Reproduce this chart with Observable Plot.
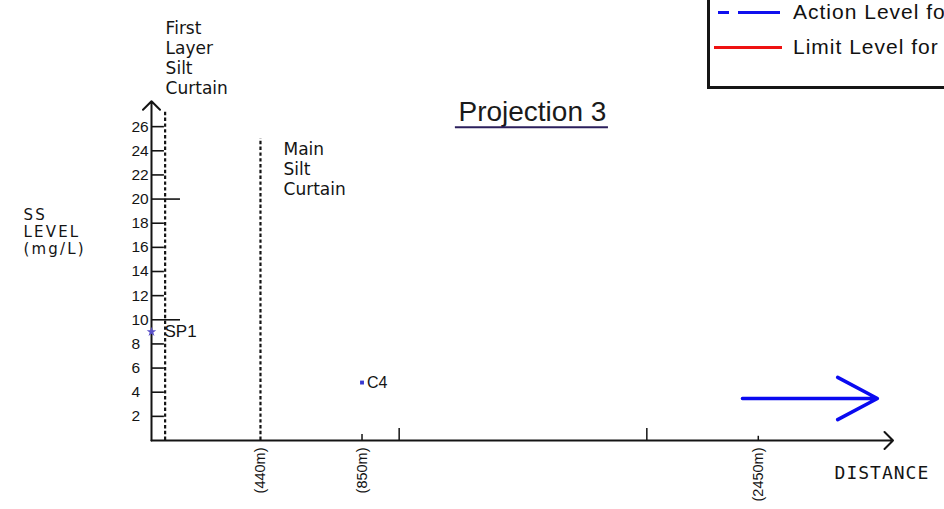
<!DOCTYPE html>
<html>
<head>
<meta charset="utf-8">
<script src="https://cdn.jsdelivr.net/npm/d3@7"></script>
<script src="https://cdn.jsdelivr.net/npm/@observablehq/plot@0.6"></script>
<style>
  body { margin: 0; background: #fff; }
  #wrap { position: relative; width: 944px; height: 509px; overflow: hidden; background: #fff; }
  #legend { position: absolute; left: 707px; top: -12px; width: 270px; height: 101px; box-sizing: border-box;
            border: 3px solid #151515; background: #fff; font-family: "Liberation Sans", Arial, sans-serif;
            font-size: 21px; color: #111; letter-spacing: 1px; }
  #legend .row { position: absolute; left: 83px; height: 24px; line-height: 24px; white-space: nowrap; }
  #legend .seg { position: absolute; height: 3px; }
</style>
</head>
<body>
<div id="wrap">
  <div id="chart"></div>
  <div id="legend"></div>
</div>
<script>
// ---- data ----
const yTicks = [2, 4, 6, 8, 10, 12, 14, 16, 18, 20, 22, 24, 26];
const longYTicks = [10, 20];

const stationNames = ["SP1", "C4"];
const stationDistance = [0, 850];      // m
const stationSS = [9.0, 4.8];          // mg/L

const curtainNames = ["First\nLayer\nSilt\nCurtain", "Main\nSilt\nCurtain"];
const curtainDistance = [55, 440];     // m
const curtainTop = [27.2, 25.0];       // extent of dotted line (mg/L units)
const curtainLabelX = [57, 533];
const curtainLabelY = [31.7, 22.5];

const xTickDistance = [850, 1000, 2000, 2450];
const xTickHeight = [0.5, 1.0, 1.0, 0.35];
const xLabelDistance = [440, 850, 2450];
const xLabelText = ["(440m)", "(850m)", "(2450m)"];

const axisXEnd = 2994;
const axisYEnd = 28.1;

const titleText = "Projection 3";
const titlePos = [1538, 27.2];
const underline = [1227, 1845, 25.95];

const ssTitle = "SS\nLEVEL\n(mg/L)";
const ssTitlePos = [-517, 17.3];
const distTitle = "DISTANCE";
const distTitlePos = [2758, -2.75];

const flowArrow = [2386, 2931, 3.48];  // x1, x2, y

const legendLabels = ["Action Level for", "Limit Level for"];
const legendColors = ["#1010ee", "#ee1111"];

// ---- build tables ----
const stations = stationNames.map((name, i) => ({name, distance: stationDistance[i], ss: stationSS[i]}));
const curtains = curtainNames.map((label, i) => ({label, distance: curtainDistance[i], top: curtainTop[i], lx: curtainLabelX[i], ly: curtainLabelY[i]}));
const xTicks = xTickDistance.map((d, i) => ({d, h: xTickHeight[i]}));
const xLabels = xLabelDistance.map((d, i) => ({d, text: xLabelText[i]}));

const ink = "#141414";

const chart = Plot.plot({
  width: 944,
  height: 509,
  marginLeft: 151,
  marginRight: 50,
  marginTop: 102,
  marginBottom: 69,
  x: {domain: [0, 3000], axis: null},
  y: {domain: [0, 28], axis: null},
  style: {fontFamily: "'DejaVu Sans', sans-serif", background: "transparent", overflow: "visible"},
  marks: [
    // silt curtains
    Plot.ruleX(curtains, {x: "distance", y1: 0, y2: "top", stroke: ink, strokeWidth: 2.2, strokeDasharray: "3.4,2.4"}),
    // axes
    Plot.arrow([0], {x1: 0, y1: 0, x2: 0, y2: axisYEnd, stroke: ink, strokeWidth: 2, headLength: 9, headAngle: 90}),
    Plot.arrow([0], {x1: 0, y1: 0, x2: axisXEnd, y2: 0, stroke: ink, strokeWidth: 2, headLength: 9, headAngle: 90}),
    // y ticks
    Plot.ruleY(yTicks, {y: d => d, x1: 0, x2: d => longYTicks.includes(d) ? 117 : 52, stroke: ink, strokeWidth: 1.6}),
    Plot.text(yTicks, {x: 0, y: d => d, text: d => String(d), textAnchor: "start", dx: -20,
      fontFamily: "'Liberation Sans Narrow', 'Liberation Sans', sans-serif", fontSize: 15.5, fill: ink}),
    // x ticks
    Plot.ruleX(xTicks, {x: "d", y1: 0, y2: "h", stroke: ink, strokeWidth: 1.5}),
    Plot.text(xLabels, {x: "d", y: 0, text: "text", rotate: -90, textAnchor: "end", dy: 7,
      fontFamily: "'Liberation Sans', sans-serif", fontSize: 14.5, fill: ink}),
    // stations
    Plot.dot(stations.filter((d, i) => i === 0), {x: "distance", y: "ss", symbol: "star", r: 3, fill: "#5a50c8", stroke: "none"}),
    Plot.dot(stations.filter((d, i) => i === 1), {x: "distance", y: "ss", symbol: "square", r: 2.2, fill: "#3838d0", stroke: "none"}),
    Plot.text(stations.filter((d, i) => i === 0), {x: "distance", y: "ss", text: "name", textAnchor: "start", dx: 13,
      fontFamily: "'Liberation Sans Narrow', 'Liberation Sans', sans-serif", fontSize: 17, fill: ink}),
    Plot.text(stations.filter((d, i) => i === 1), {x: "distance", y: "ss", text: "name", textAnchor: "start", dx: 5,
      fontFamily: "'Liberation Sans Narrow', 'Liberation Sans', sans-serif", fontSize: 16, fontWeight: 500, fill: ink}),
    // curtain labels
    Plot.text(curtains, {x: "lx", y: "ly", text: "label", textAnchor: "start", lineHeight: 1.17,
      fontFamily: "'DejaVu Sans', sans-serif", fontSize: 17, fill: ink}),
    // title
    Plot.text([titleText], {x: () => titlePos[0], y: () => titlePos[1], text: d => d,
      fontFamily: "'Liberation Sans', sans-serif", fontSize: 28, fill: "#1a1a1a"}),
    Plot.ruleY([underline], {y: d => d[2], x1: d => d[0], x2: d => d[1], stroke: "#2b1f5c", strokeWidth: 2}),
    // axis titles
    Plot.text([ssTitle], {x: () => ssTitlePos[0], y: () => ssTitlePos[1], text: d => d, textAnchor: "start", lineHeight: 1.12,
      fontFamily: "'DejaVu Sans', sans-serif", fontSize: 15, fill: ink}),
    Plot.text([distTitle], {x: () => distTitlePos[0], y: () => distTitlePos[1], text: d => d, textAnchor: "start",
      fontFamily: "'DejaVu Sans Mono', monospace", fontSize: 18, fill: ink}),
    // flow direction arrow
    Plot.arrow([flowArrow], {x1: d => d[0], x2: d => d[1], y1: d => d[2], y2: d => d[2],
      stroke: "#0a0af0", strokeWidth: 3.5, headLength: 39, headAngle: 56})
  ]
});
document.getElementById("chart").appendChild(chart);

// widen the plotter-style axis titles
d3.select(chart).selectAll("text")
  .filter(function() { return this.textContent === distTitle; })
  .style("letter-spacing", "1px");
d3.select(chart).selectAll("text")
  .filter(function() { return this.textContent === ssTitle.replace(/\n/g, ""); })
  .style("letter-spacing", "2.2px");

// legend (partially cropped at the top-right, as in the reference)
const legend = d3.select("#legend");
legend.append("div").attr("class", "seg").style("left", "8px").style("width", "11px").style("top", "19.5px").style("background", legendColors[0]);
legend.append("div").attr("class", "seg").style("left", "28px").style("width", "42px").style("top", "19.5px").style("background", legendColors[0]);
legend.append("div").attr("class", "seg").style("left", "4px").style("width", "68px").style("top", "55px").style("background", legendColors[1]);
legend.append("div").attr("class", "row").style("top", "9px").text(legendLabels[0]);
legend.append("div").attr("class", "row").style("top", "44px").text(legendLabels[1]);
</script>
</body>
</html>
